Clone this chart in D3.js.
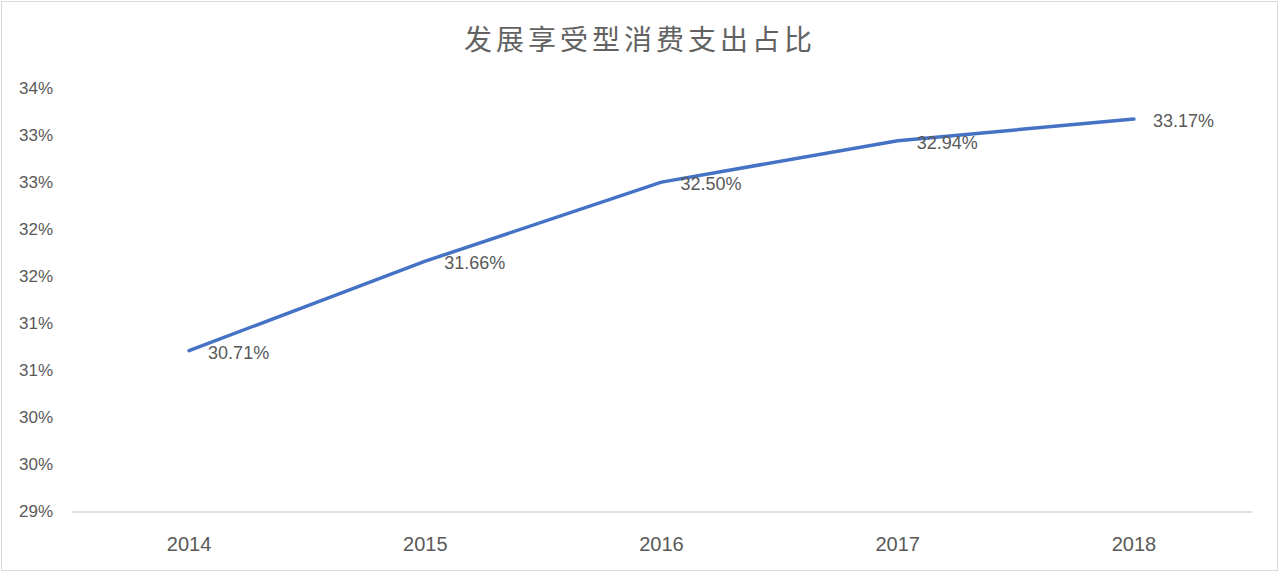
<!DOCTYPE html>
<html>
<head>
<meta charset="utf-8">
<script src="https://cdn.jsdelivr.net/npm/d3@7"></script>
<style>
  body { margin: 0; background: #fff; }
</style>
</head>
<body>
<div id="chart-area"></div>
<script>
// data
var years = ["2014", "2015", "2016", "2017", "2018"];
var shares = [30.71, 31.66, 32.50, 32.94, 33.17];
var yTicks = [29, 29.5, 30, 30.5, 31, 31.5, 32, 32.5, 33, 33.5];
var yTickLabels = ["29%", "30%", "30%", "31%", "31%", "32%", "32%", "33%", "33%", "34%"];
var title = "发展享受型消费支出占比";

var W = 1280, H = 573;
var svg = d3.select("#chart-area").append("svg")
    .attr("width", W)
    .attr("height", H);

// chart border
svg.append("rect")
    .attr("x", 1.5).attr("y", 1.5)
    .attr("width", W - 4).attr("height", H - 4)
    .attr("fill", "#fff")
    .attr("stroke", "#d9d9d9");

var x = d3.scaleBand()
    .domain(years)
    .range([71, 1252]);

var y = d3.scaleLinear()
    .domain([29, 33.5])
    .range([511.5, 88]);

// title
svg.append("text")
    .attr("x", 640).attr("y", 38)
    .attr("text-anchor", "middle")
    .attr("dominant-baseline", "central")
    .attr("font-family", "'Noto Sans CJK SC', sans-serif")
    .attr("font-size", 28)
    .attr("letter-spacing", 4)
    .attr("fill", "#626262")
    .text(title);

// y axis labels (no line)
var yAxis = d3.axisLeft(y)
    .tickValues(yTicks)
    .tickSize(0)
    .tickPadding(0)
    .tickFormat((d, i) => yTickLabels[i]);

svg.append("g")
    .attr("transform", "translate(53,0)")
    .call(yAxis)
    .call(g => g.select(".domain").remove())
    .selectAll("text")
    .attr("font-family", "'Liberation Sans', Arial, sans-serif")
    .attr("font-size", 17)
    .attr("fill", "#595959");

// x axis
var xAxis = d3.axisBottom(x).tickSize(0).tickPadding(25);
svg.append("g")
    .attr("transform", "translate(0," + y(29) + ")")
    .call(xAxis)
    .call(g => g.select(".domain").attr("stroke", "#d9d9d9").attr("stroke-width", 1.5))
    .selectAll("text")
    .attr("font-family", "'Liberation Sans', Arial, sans-serif")
    .attr("font-size", 20)
    .attr("fill", "#595959");

// line
var line = d3.line()
    .x((d, i) => x(years[i]) + x.bandwidth() / 2)
    .y(d => y(d));

svg.append("path")
    .datum(shares)
    .attr("d", line)
    .attr("fill", "none")
    .attr("stroke", "#4472c4")
    .attr("stroke-width", 3.5)
    .attr("stroke-linecap", "round")
    .attr("stroke-linejoin", "round");

// data labels, right of point
svg.selectAll(".lbl")
    .data(shares)
    .enter()
    .append("text")
    .attr("class", "lbl")
    .attr("x", (d, i) => x(years[i]) + x.bandwidth() / 2 + 19)
    .attr("y", d => y(d) + 2)
    .attr("dominant-baseline", "central")
    .attr("font-family", "'Liberation Sans', Arial, sans-serif")
    .attr("font-size", 18)
    .attr("fill", "#595959")
    .text(d => d.toFixed(2) + "%");
</script>
</body>
</html>
